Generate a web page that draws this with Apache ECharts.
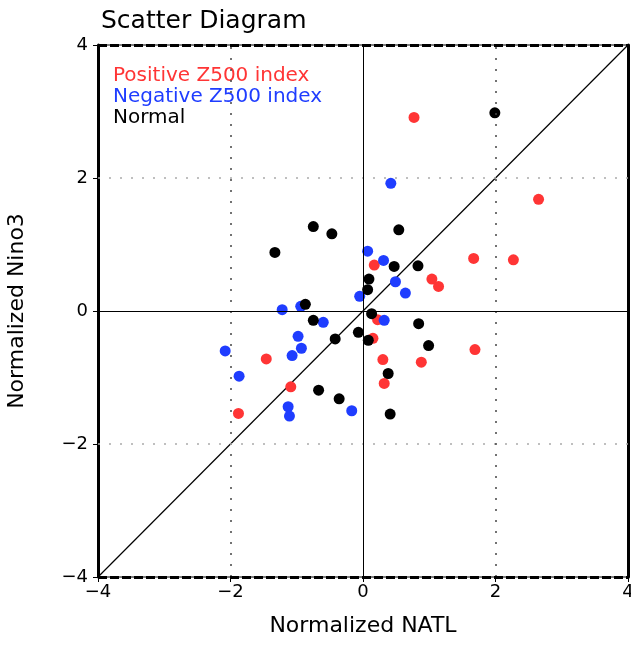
<!DOCTYPE html>
<html>
<head>
<meta charset="utf-8">
<script src="https://cdn.jsdelivr.net/npm/echarts@6/dist/echarts.min.js"></script>
<style>html,body{margin:0;padding:0;background:#fff;}#c{width:631px;height:655px;}</style>
</head>
<body>
<div id="c"></div>
<script>
var titleText = 'Scatter Diagram';
var xName = 'Normalized NATL';
var yName = 'Normalized Nino3';
var axisMin = -4, axisMax = 4, axisStep = 2;
var seriesNames = ['Positive Z500 index', 'Negative Z500 index', 'Normal'];
var positivePts = [
  [0.77, 2.91], [2.65, 1.68], [1.67, 0.79], [2.27, 0.77], [1.04, 0.48], [1.14, 0.37],
  [0.17, 0.69], [0.22, -0.13], [0.15, -0.41], [1.69, -0.58], [-1.46, -0.72], [0.30, -0.73],
  [0.88, -0.77], [0.32, -1.09], [-1.09, -1.14], [-1.88, -1.54]
];
var negativePts = [
  [0.42, 1.92], [0.07, 0.90], [0.31, 0.76], [0.49, 0.44], [0.64, 0.27], [-0.05, 0.22],
  [-0.94, 0.07], [-1.22, 0.02], [0.32, -0.14], [-0.60, -0.17], [-0.98, -0.38], [-0.93, -0.56],
  [-2.08, -0.60], [-1.07, -0.67], [-1.87, -0.98], [-1.13, -1.44], [-0.17, -1.50], [-1.11, -1.58]
];
var normalPts = [
  [1.99, 2.98], [-0.75, 1.27], [-0.47, 1.16], [0.54, 1.22], [-1.33, 0.88], [0.47, 0.67],
  [0.83, 0.68], [0.09, 0.48], [0.07, 0.32], [-0.87, 0.10], [0.13, -0.04], [-0.75, -0.14],
  [0.84, -0.19], [-0.07, -0.32], [-0.42, -0.42], [0.08, -0.44], [0.99, -0.52], [0.38, -0.94],
  [-0.67, -1.19], [-0.36, -1.32], [0.41, -1.55]
];
var diagonal = [[-4, -4], [4, 4]];
var dottedRefs = [-2, 2];
var zeroRef = 0;
var colors = ['#ff3535', '#1f3dff', '#000000'];

var fontFam = 'DejaVu Sans';
var chart = echarts.init(document.getElementById('c'), null, {renderer: 'canvas'});
function fmt(v) { return String(v).replace('-', '\u2212'); }
var refLines = [];
dottedRefs.forEach(function (v) {
  refLines.push({xAxis: v, lineStyle: {type: [2, 9], color: '#444', width: 1.5}});
  refLines.push({yAxis: v, lineStyle: {type: [2, 9], color: '#aaa', width: 1.5}});
});
refLines.push({xAxis: zeroRef, lineStyle: {type: 'solid', color: '#000', width: 1}});
refLines.push({yAxis: zeroRef, lineStyle: {type: 'solid', color: '#000', width: 1}});
refLines.push({yAxis: axisMax, lineStyle: {type: [9, 3], color: '#000', width: 3}});
refLines.push({yAxis: axisMin, lineStyle: {type: [9, 3], color: '#000', width: 3}});

var axisLabelStyle = {fontFamily: fontFam, fontSize: 18, color: '#000', formatter: fmt};
var option = {
  backgroundColor: '#fff',
  animation: false,
  title: {text: titleText, left: 96, top: 4,
    textStyle: {fontFamily: fontFam, fontSize: 25, fontWeight: 'normal', color: '#000'}},
  legend: {
    orient: 'vertical', left: 108, top: 61, itemGap: 1, itemWidth: 0, itemHeight: 0,
    icon: 'rect',
    data: seriesNames.map(function (n, i) { return {name: n, textStyle: {color: colors[i]}}; }),
    textStyle: {fontFamily: fontFam, fontSize: 20, padding: [0, 0, 0, -5]}
  },
  grid: {left: 98, right: 3, top: 45, bottom: 78, show: true, borderColor: '#000', borderWidth: 1,
    outerBoundsMode: 'none'},
  xAxis: {
    type: 'value', min: axisMin, max: axisMax, interval: axisStep,
    name: xName, nameLocation: 'middle', nameGap: 38,
    nameTextStyle: {fontFamily: fontFam, fontSize: 22, color: '#000'},
    axisLine: {show: false, onZero: false},
    axisTick: {show: true, inside: false, length: 5, lineStyle: {color: '#000', width: 1}},
    axisLabel: Object.assign({margin: 6}, axisLabelStyle),
    splitLine: {show: false}
  },
  yAxis: [{
    type: 'value', min: axisMin, max: axisMax, interval: axisStep, position: 'left',
    name: yName, nameLocation: 'middle', nameGap: 70,
    nameTextStyle: {fontFamily: fontFam, fontSize: 22, color: '#000'},
    axisLine: {show: true, onZero: false, lineStyle: {color: '#000', width: 3}},
    axisTick: {show: true, inside: false, length: 5, lineStyle: {color: '#000', width: 1}},
    axisLabel: Object.assign({margin: 10}, axisLabelStyle),
    splitLine: {show: false}
  }, {
    type: 'value', min: axisMin, max: axisMax, interval: axisStep, position: 'right',
    axisLine: {show: true, onZero: false, lineStyle: {color: '#000', width: 3}},
    axisTick: {show: false}, axisLabel: {show: false}, splitLine: {show: false}
  }],
  series: [
    {name: 'ref', type: 'line', data: diagonal, showSymbol: false, symbol: 'none',
     lineStyle: {color: '#000', width: 1.2}, silent: true, z: 1,
     markLine: {silent: true, symbol: 'none', label: {show: false}, data: refLines}},
    {name: seriesNames[0], type: 'scatter', data: positivePts, symbolSize: 11, itemStyle: {color: colors[0], opacity: 1}, z: 3},
    {name: seriesNames[1], type: 'scatter', data: negativePts, symbolSize: 11, itemStyle: {color: colors[1], opacity: 1}, z: 3},
    {name: seriesNames[2], type: 'scatter', data: normalPts, symbolSize: 11, itemStyle: {color: colors[2], opacity: 1}, z: 3}
  ]
};
chart.setOption(option);
</script>
</body>
</html>
